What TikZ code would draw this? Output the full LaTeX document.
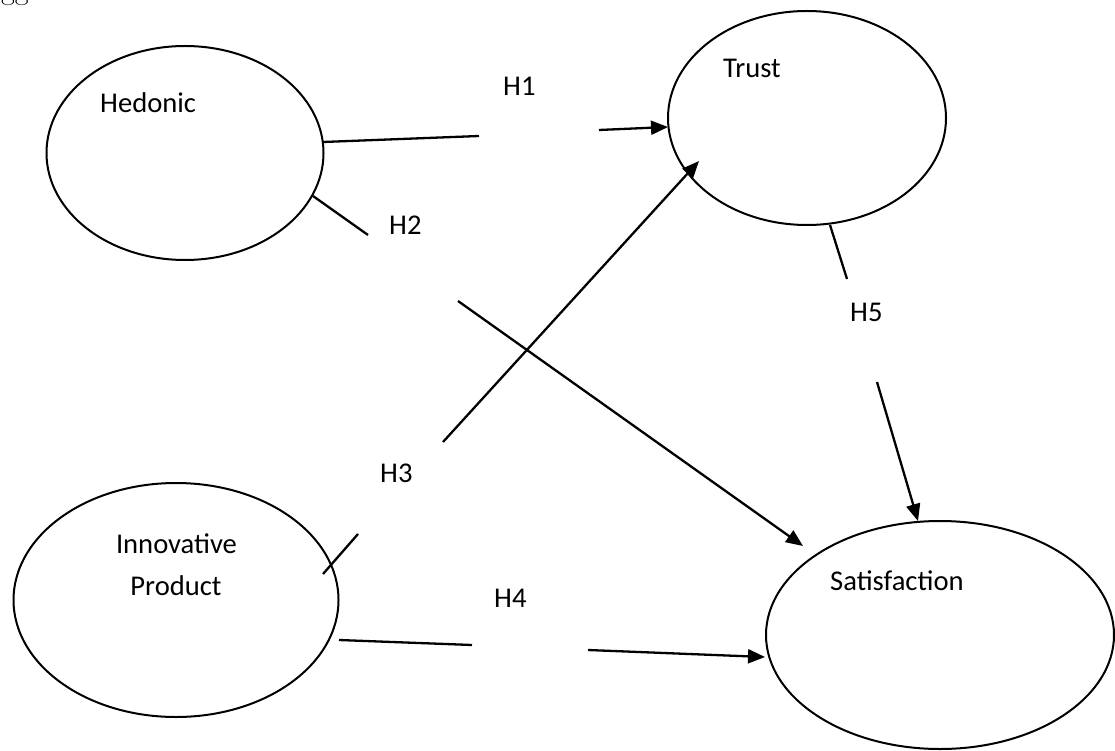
\documentclass[tikz,border=0pt]{standalone}
\usepackage{fontspec}
\setsansfont{Carlito}
\usetikzlibrary{arrows.meta,shapes.geometric}
\begin{document}
\begin{tikzpicture}[x=1pt,y=-1pt,
  bubble/.style={draw,line width=2pt,ellipse,inner sep=0pt},
  lbl/.style={font=\sffamily\fontsize{28.6}{34}\selectfont,anchor=base west,inner sep=0pt},
  link/.style={line width=2.3pt},
  arr/.style={line width=2.3pt,-{Triangle[length=17pt,width=14pt]}}]
\useasboundingbox (0,0) rectangle (1115,751);
% page fragment (cut off at the top edge, as in the reference)
\node[font=\rmfamily\fontsize{30}{36}\selectfont,anchor=base west,inner sep=0pt] (gg) at (1,0) {gg};
% ellipses
\node[bubble,minimum width=277pt,minimum height=214pt] (hed) at (185,153) {};
\node[bubble,minimum width=278pt,minimum height=214pt] (trust) at (807,118) {};
\node[bubble,minimum width=325pt,minimum height=234pt] (innov) at (176,600) {};
\node[bubble,minimum width=348pt,minimum height=228pt] (sat) at (940,635) {};
% ellipse texts
\node[lbl] (thed) at (100,113) {Hedonic};
\node[lbl] (ttrust) at (723,78) {Trust};
\node[lbl,anchor=base] (tinnov1) at (176.5,553) {Innovative};
\node[lbl,anchor=base] (tinnov2) at (176,595) {Product};
\node[lbl] (tsat) at (830,590) {Satisfaction};
% hypothesis labels
\node[lbl] (h1) at (503,96) {H1};
\node[lbl] (h2) at (389,235) {H2};
\node[lbl] (h3) at (380,482) {H3};
\node[lbl] (h4) at (494,607) {H4};
\node[lbl] (h5) at (850,321) {H5};
% connector points
\coordinate (h1a) at (323,142);
\coordinate (h1b) at (479,136);
\coordinate (h1c) at (599,130);
\coordinate (h1d) at (668,127);
\coordinate (h2a) at (313,196);
\coordinate (h2b) at (368,235);
\coordinate (h2c) at (458,301);
\coordinate (h2d) at (803,546);
\coordinate (h3a) at (323,574);
\coordinate (h3b) at (358,534);
\coordinate (h3c) at (443,442);
\coordinate (h3d) at (699,161);
\coordinate (h4a) at (339,640);
\coordinate (h4b) at (472,645);
\coordinate (h4c) at (588,650);
\coordinate (h4d) at (765,657);
\coordinate (h5a) at (830,225);
\coordinate (h5b) at (847,279);
\coordinate (h5c) at (877,382);
\coordinate (h5d) at (918,521);
% connectors
\draw[link] (h1a) -- (h1b);
\draw[arr] (h1c) -- (h1d);
\draw[link] (h2a) -- (h2b);
\draw[arr] (h2c) -- (h2d);
\draw[link] (h3a) -- (h3b);
\draw[arr] (h3c) -- (h3d);
\draw[link] (h4a) -- (h4b);
\draw[arr] (h4c) -- (h4d);
\draw[link] (h5a) -- (h5b);
\draw[arr] (h5c) -- (h5d);
\end{tikzpicture}
\end{document}
